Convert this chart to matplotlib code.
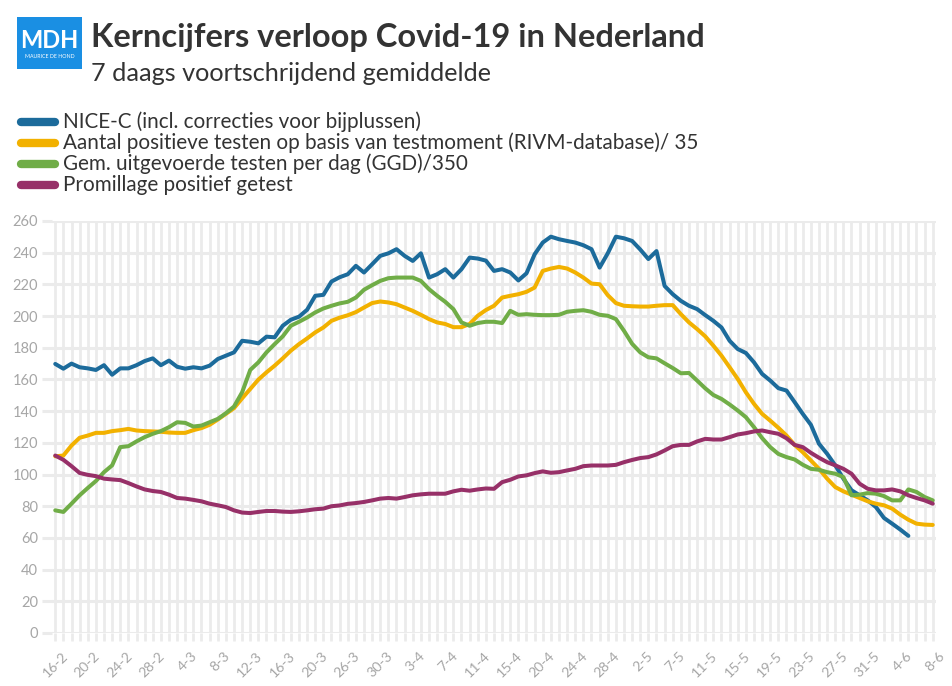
import matplotlib
matplotlib.use("Agg")
import matplotlib.pyplot as plt
import matplotlib.patches as mpatches
import matplotlib.transforms as mtransforms
from matplotlib.lines import Line2D
import numpy as np

plt.rcParams['font.family'] = ['Lato', 'DejaVu Sans']

tick_labels = ["16-2", "20-2", "24-2", "28-2", "4-3", "8-3", "12-3", "16-3", "20-3",
               "26-3", "30-3", "3-4", "7-4", "11-4", "15-4", "20-4", "24-4", "28-4",
               "2-5", "7-5", "11-5", "15-5", "19-5", "23-5", "27-5", "31-5", "4-6", "8-6"]

nice_c = [169.8, 166.8, 170, 167.7, 167, 166, 169, 163, 167, 167,
          169, 171.6, 173.3, 169, 171.9, 168, 166.8, 167.7, 167, 168.7,
          172.9, 175, 177.1, 184.4, 183.8, 182.8, 187, 186.6, 193.9, 197.7,
          199.6, 204, 212.8, 213.4, 221.8, 224.5, 226.4, 231.7, 227.5, 232.7,
          238, 239.6, 242.2, 238, 234.8, 239.6, 224.3, 226.4, 229.6, 224.3,
          229.6, 236.9, 236.3, 235, 228.5, 229.6, 227.5, 222.5, 227, 239,
          246.4, 250.1, 248.5, 247.4, 246.4, 244.7, 242.2, 230.6, 239.6, 250.1,
          249.1, 247.4, 242, 236, 241, 219, 213.8, 209.6, 206.5, 204.4,
          200.6, 197, 192.8, 184.4, 179.2, 176.7, 170.8, 163.5, 159.3, 154.5,
          153, 145.7, 138.3, 131.4, 119.4, 113.1, 105.8, 97.4, 90.1, 86.9,
          83.7, 79.5, 72.6, 69, 65.3, 61.3]

positief = [111.5, 112, 118.3, 123.2, 124.6, 126.3, 126.3, 127.4, 128, 128.8,
            127.8, 127.4, 127.2, 127, 126.5, 126.3, 126.3, 128, 129.3, 131.4,
            134.7, 138.3, 141.9, 148.1, 154, 159.9, 164.5, 168.7, 173.3, 178.2,
            182.3, 185.9, 189.7, 192.8, 197, 199, 200.5, 202.5, 205.4, 208.2,
            209.2, 208.6, 207.5, 205.4, 203.3, 200.8, 198.1, 196, 195, 193,
            193, 195, 200.2, 203.8, 206.5, 211.7, 212.8, 213.8, 215.3, 218,
            228.5, 230, 231, 230, 227.5, 224.3, 220.5, 220.1, 213.2, 208.2,
            206.5, 206.2, 206, 206, 206.5, 206.9, 206.9, 201.2, 196, 191.8,
            187.2, 181.3, 175, 167.7, 160.3, 151.9, 144.6, 138.3, 134, 129.5,
            124.6, 118.7, 114.1, 108.9, 103.6, 97.4, 92.1, 89.4, 87.3, 85.2,
            83.1, 81.6, 80.6, 78.5, 74.7, 71.5, 69, 68.4, 68.2]

testen = [77.4, 76.4, 81.6, 86.9, 91.5, 95.9, 101.5, 105.8, 117.3, 117.9,
          120.9, 123.6, 125.7, 127.4, 129.9, 133, 132.6, 130.3, 130.9, 133,
          135.1, 138.7, 142.9, 151.9, 166, 170.8, 177.1, 182.3, 187.2, 193.9,
          196.4, 199.1, 202.3, 204.8, 206.5, 208, 209, 211.7, 216.6, 219.5,
          222.2, 223.9, 224.3, 224.3, 224.3, 222.2, 217, 212.8, 209, 204.4,
          196, 193.9, 195.6, 196.4, 196.4, 195.6, 203.3, 200.8, 201.2, 200.8,
          200.6, 200.6, 200.8, 202.7, 203.3, 203.7, 202.7, 200.8, 200.2, 198.1,
          190.7, 182.5, 177.1, 174, 173.3, 170.2, 167.2, 163.9, 164.1, 159.3,
          154.4, 150.2, 147.7, 144.2, 140.4, 136.2, 129.9, 123, 117.3, 113,
          111, 109.5, 106.2, 103.6, 103, 101.5, 100.5, 98.4, 86.9, 87.3,
          88.3, 87.9, 86.4, 83.7, 83.7, 90.6, 89, 85.8, 83.7]

promillage = [112, 109.3, 105.3, 101, 99.8, 99, 97.4, 96.9, 96.5, 94.6,
              92.5, 90.6, 89.6, 89, 87.3, 85.2, 84.8, 84, 83.1, 81.6,
              80.6, 79.5, 77.4, 76, 75.7, 76.4, 77, 77, 76.6, 76.4,
              76.8, 77.4, 78.1, 78.5, 80, 80.5, 81.5, 82, 82.7, 83.7,
              84.8, 85.2, 84.8, 85.8, 86.9, 87.5, 87.9, 87.9, 87.9, 89.4,
              90.4, 89.8, 90.6, 91.2, 91, 95.2, 96.7, 98.8, 99.5, 100.9,
              102, 101.1, 101.5, 102.6, 103.6, 105.3, 105.7, 105.7, 105.7, 106.1,
              107.8, 109.2, 110.4, 111, 112.7, 115.2, 117.9, 118.7, 118.7, 120.9,
              122.5, 122.1, 122.1, 123.6, 125.3, 126.1, 127.2, 127.8, 126.7, 125.7,
              122.9, 118.7, 117.3, 113.7, 110.6, 107.8, 105.8, 103.6, 100.5, 94.2,
              91, 90, 90, 90.6, 89.4, 86.9, 85.2, 83.7, 81.6]

series_names = ["NICE-C (incl. correcties voor bijplussen)",
                "Aantal positieve testen op basis van testmoment (RIVM-database)/ 35",
                "Gem. uitgevoerde testen per dag (GGD)/350",
                "Promillage positief getest"]
colors = ["#1c6b9b", "#f2b100", "#70ad47", "#973068"]

W, H = 953, 686
fig = plt.figure(figsize=(W / 100, H / 100), dpi=100)
fig.patch.set_facecolor("white")

def fx(px):
    return px / W

def fy(py):
    return 1 - py / H

ax = fig.add_axes([fx(52), fy(633), fx(936) - fx(52), fy(221) - fy(633)])
n = len(positief)
ax.set_xlim(-0.4, n - 1 + 0.4)
ax.set_ylim(0, 260)

grid_c = "#ebebeb"
for x in range(n):
    ax.axvline(x, color=grid_c, lw=2.0, zorder=0)
for y in range(0, 261, 20):
    ax.axhline(y, color=grid_c, lw=2.2, zorder=0)

for s in ax.spines.values():
    s.set_visible(False)

ax.set_yticks(range(0, 261, 20))
ax.tick_params(axis='y', length=7, width=2.2, color=grid_c, labelcolor="#a6a6a6",
               labelsize=10.5, pad=3)
ax.set_xticks(range(0, n, 4))
ax.set_xticklabels(tick_labels, rotation=45, ha='right', rotation_mode='anchor')
ax.set_xticks(range(n), minor=True)
ax.tick_params(axis='x', which='both', length=6, width=2.0, color=grid_c,
               labelcolor="#a6a6a6", labelsize=10.2, pad=6)
shift = mtransforms.ScaledTranslation(6 / 100, 0, fig.dpi_scale_trans)
for lab in ax.get_xticklabels():
    lab.set_transform(lab.get_transform() + shift)

data = [nice_c, positief, testen, promillage]
for vals, c in zip(data, colors):
    ax.plot(np.arange(len(vals)), vals, color=c, lw=2.9, solid_capstyle='round',
            solid_joinstyle='round', zorder=3)

# logo
logo = mpatches.Rectangle((fx(17), fy(69)), fx(82) - fx(17), fy(17) - fy(69),
                          transform=fig.transFigure, facecolor="#1a8fe3",
                          edgecolor="none")
fig.patches.append(logo)
fig.text(fx(49.5), fy(40), "MDH", color="white", fontsize=17, fontweight='bold',
         ha='center', va='center')
fig.text(fx(49.5), fy(56), "MAURICE DE HOND", color="white", fontsize=3.8,
         ha='center', va='center')

fig.text(fx(91), fy(47), "Kerncijfers verloop Covid-19 in Nederland",
         fontsize=23.5, fontweight='bold', color="#333333", ha='left', va='baseline')
fig.text(fx(91), fy(81), "7 daags voortschrijdend gemiddelde",
         fontsize=18.2, color="#333333", ha='left', va='baseline')

rows = [122, 143, 164, 185]
for name, c, ry in zip(series_names, colors, rows):
    fig.lines.append(Line2D([fx(21), fx(55)], [fy(ry), fy(ry)], transform=fig.transFigure,
                            color=c, lw=6, solid_capstyle='round'))
    fig.text(fx(63), fy(ry), name, fontsize=14.9, color="#333333",
             ha='left', va='center')

fig.savefig("out.png", dpi=100, facecolor="white")
